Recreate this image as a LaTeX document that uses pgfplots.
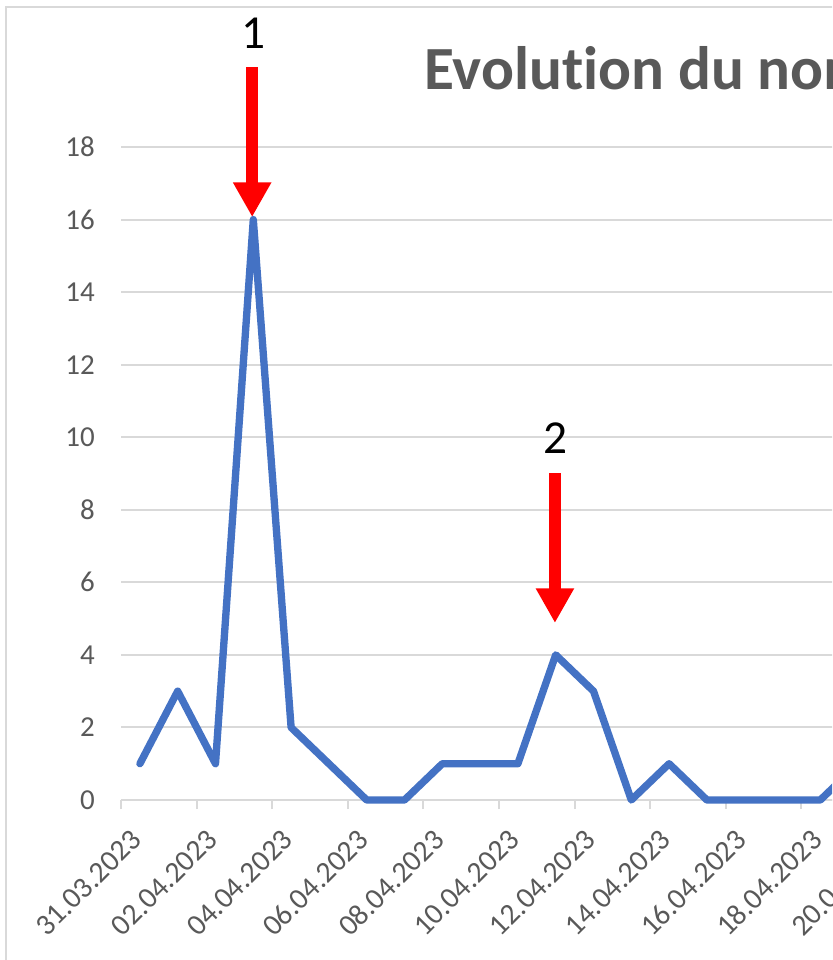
\documentclass[border=0pt]{standalone}
\usepackage{fontspec}
\setmainfont{Carlito}[Ligatures=NoCommon]
\usepackage{pgfplots}
\pgfplotsset{compat=1.18}
\usetikzlibrary{arrows.meta}
\definecolor{gridc}{HTML}{D9D9D9}
\definecolor{txtc}{HTML}{595959}
\definecolor{linec}{HTML}{4472C4}
\begin{document}
\begin{tikzpicture}
\useasboundingbox (0,0) rectangle (624pt,720pt);
\clip (0,0) rectangle (624pt,720pt);
\fill[white] (0,0) rectangle (624pt,720pt);
\draw[gridc, line width=1.5pt] (4.5pt,-10pt) -- (4.5pt,714.75pt) -- (700pt,714.75pt);
\node[anchor=base west, font=\fontsize{46pt}{50pt}\selectfont\bfseries, text=txtc, inner sep=0pt] at (318pt,652.5pt) {Evolution du nombre de};
\begin{axis}[
  at={(90.75pt,120pt)}, anchor=south west,
  scale only axis, width=708.75pt, height=489.75pt,
  xmin=-0.5, xmax=24.5, ymin=0, ymax=18,
  clip=false,
  axis x line*=bottom, axis y line*=left,
  y axis line style={draw=none},
  x axis line style={gridc, line width=1.5pt},
  ytick={0,2,...,18},
  ymajorgrids, major grid style={gridc, line width=1.5pt},
  ytick style={draw=none},
  xtick={0,2,...,24},
  xticklabels={31.03.2023,02.04.2023,04.04.2023,06.04.2023,08.04.2023,10.04.2023,12.04.2023,14.04.2023,16.04.2023,18.04.2023,20.04.2023,22.04.2023,24.04.2023},
  major tick length=0pt,
  minor xtick={-0.5,1.5,...,23.5},
  minor x tick style={gridc, line width=1.5pt},
  minor tick length=6.75pt,
  tick align=outside,
  /pgf/number format/assume math mode=true,
  yticklabel style={font=\fontsize{21.7pt}{24pt}\selectfont, text=txtc, anchor=east, inner sep=0pt, xshift=-19.5pt},
  xticklabel style={font=\fontsize{22.3pt}{24pt}\selectfont, text=txtc, inner sep=0pt, xshift=-2.5pt, yshift=-26pt, rotate=45, anchor=east},
]
\addplot[linec, line width=5.5pt, line join=round, line cap=round, mark=none] coordinates {
(0,1) (1,3) (2,1) (3,16) (4,2) (5,1) (6,0) (7,0) (8,1) (9,1) (10,1) (11,4) (12,3) (13,0) (14,1) (15,0) (16,0) (17,0) (18,0) (19,1)
};
\draw[red, line width=9pt, -{Triangle[width=27pt,length=26pt]}] (axis cs:2.97,20.2) -- (axis cs:2.97,16.07);
\draw[red, line width=9pt, -{Triangle[width=27pt,length=26pt]}] (axis cs:10.98,9.01) -- (axis cs:10.98,4.88);
\node[font=\fontsize{35.5pt}{40pt}\selectfont, inner sep=0pt] at (axis cs:3,21.14) {1};
\node[font=\fontsize{35.5pt}{40pt}\selectfont, inner sep=0pt] at (axis cs:11,9.98) {2};
\end{axis}
\end{tikzpicture}
\end{document}
